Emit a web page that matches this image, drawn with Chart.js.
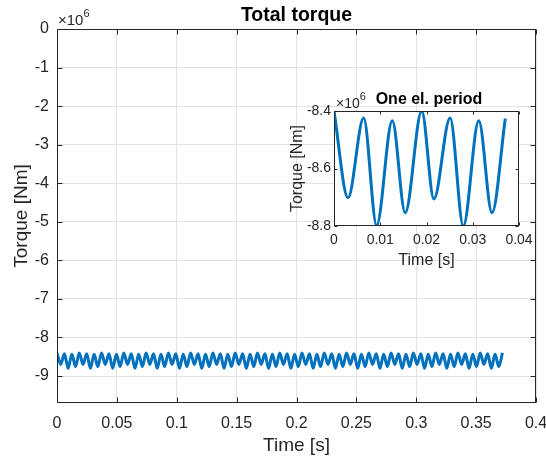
<!DOCTYPE html>
<html>
<head>
<meta charset="utf-8">
<script src="https://cdn.jsdelivr.net/npm/chart.js@4.4.1/dist/chart.umd.min.js"></script>
<style>
	body { margin: 0; background: #fff; }
	#wrap { position: relative; width: 546px; height: 463px; }
	#mainChart { position: absolute; left: 0; top: 0; }
	#insetChart { position: absolute; left: 270px; top: 80px; }
</style>
</head>
<body>
<div id="wrap">
	<canvas id="mainChart" width="546" height="463"></canvas>
	<canvas id="insetChart" width="270" height="200"></canvas>
</div>
<script>
// torque values are in units of 1e6 Nm (axis shows x10^6)
const mainTime = [
	0, 0.0031, 0.0062, 0.0093, 0.0124, 0.0155, 0.0186, 0.0217, 0.0248, 0.0279,
	0.031, 0.0341, 0.0372, 0.0403, 0.0434, 0.0465, 0.0496, 0.0527, 0.0558, 0.0589,
	0.062, 0.0651, 0.0682, 0.0713, 0.0744, 0.0775, 0.0806, 0.0837, 0.0868, 0.0899,
	0.093, 0.0961, 0.0992, 0.1023, 0.1054, 0.1085, 0.1116, 0.1147, 0.1178, 0.1209,
	0.124, 0.1271, 0.1302, 0.1333, 0.1364, 0.1395, 0.1426, 0.1457, 0.1488, 0.1519,
	0.155, 0.1581, 0.1612, 0.1643, 0.1674, 0.1705, 0.1736, 0.1767, 0.1798, 0.1829,
	0.186, 0.1891, 0.1922, 0.1953, 0.1984, 0.2015, 0.2046, 0.2077, 0.2108, 0.2139,
	0.217, 0.2201, 0.2232, 0.2263, 0.2294, 0.2325, 0.2356, 0.2387, 0.2418, 0.2449,
	0.248, 0.2511, 0.2542, 0.2573, 0.2604, 0.2635, 0.2666, 0.2697, 0.2728, 0.2759,
	0.279, 0.2821, 0.2852, 0.2883, 0.2914, 0.2945, 0.2976, 0.3007, 0.3038, 0.3069,
	0.31, 0.3131, 0.3162, 0.3193, 0.3224, 0.3255, 0.3286, 0.3317, 0.3348, 0.3379,
	0.341, 0.3441, 0.3472, 0.3503, 0.3534, 0.3565, 0.3596, 0.3627, 0.3658, 0.3689,
	0.372
];
const mainTorque = [
	-8.40, -8.70, -8.424, -8.80, -8.434, -8.754, -8.40, -8.70, -8.424, -8.80,
	-8.434, -8.754, -8.40, -8.70, -8.424, -8.80, -8.434, -8.754, -8.40, -8.70,
	-8.424, -8.80, -8.434, -8.754, -8.40, -8.70, -8.424, -8.80, -8.434, -8.754,
	-8.40, -8.70, -8.424, -8.80, -8.434, -8.754, -8.40, -8.70, -8.424, -8.80,
	-8.434, -8.754, -8.40, -8.70, -8.424, -8.80, -8.434, -8.754, -8.40, -8.70,
	-8.424, -8.80, -8.434, -8.754, -8.40, -8.70, -8.424, -8.80, -8.434, -8.754,
	-8.40, -8.70, -8.424, -8.80, -8.434, -8.754, -8.40, -8.70, -8.424, -8.80,
	-8.434, -8.754, -8.40, -8.70, -8.424, -8.80, -8.434, -8.754, -8.40, -8.70,
	-8.424, -8.80, -8.434, -8.754, -8.40, -8.70, -8.424, -8.80, -8.434, -8.754,
	-8.40, -8.70, -8.424, -8.80, -8.434, -8.754, -8.40, -8.70, -8.424, -8.80,
	-8.434, -8.754, -8.40, -8.70, -8.424, -8.80, -8.434, -8.754, -8.40, -8.70,
	-8.424, -8.80, -8.434, -8.754, -8.40, -8.70, -8.424, -8.80, -8.434, -8.754,
	-8.40
];
const insetTime = [0, 0.00303, 0.00641, 0.00922, 0.0126, 0.0154, 0.01896, 0.0216, 0.0251, 0.02796, 0.0313, 0.03416, 0.03704];
const insetTorque = [-8.40, -8.702, -8.424, -8.798, -8.434, -8.754, -8.40, -8.706, -8.424, -8.80, -8.434, -8.754, -8.426];

const mainXTicks = { min: 0, max: 0.4, step: 0.05 };
const mainYTicks = { min: -9.7, max: 0, step: 1 };
const insetXTicks = { min: 0, max: 0.04, step: 0.01 };
const insetYTicks = { min: -8.8, max: -8.4, step: 0.2 };

const lineColor = '#0072bd';
const axisColor = '#262626';
const fontFamily = '"Liberation Sans", Arial, Helvetica, sans-serif';

function toPoints(xs, ys) {
	return xs.map((x, i) => ({ x: x, y: ys[i] }));
}

// box, inward ticks, white plot background and the text that sits outside the scales
const frameAndLabels = {
	id: 'frameAndLabels',
	beforeDraw(chart, args, opts) {
		const { ctx, chartArea: a } = chart;
		ctx.save();
		ctx.fillStyle = '#fff';
		if (opts.fillAll) {
			ctx.fillRect(0, 0, chart.width, chart.height);
		} else {
			ctx.fillRect(a.left, a.top, a.right - a.left, a.bottom - a.top);
		}
		ctx.restore();
	},
	afterDraw(chart, args, opts) {
		const { ctx, chartArea: a, scales } = chart;
		const L = Math.round(a.left) + 0.5, R = Math.round(a.right) - 0.5;
		const T = Math.round(a.top) + 0.5, B = Math.round(a.bottom) - 0.5;
		const len = opts.tickLen;
		ctx.save();
		ctx.strokeStyle = axisColor;
		ctx.lineWidth = 1;
		ctx.beginPath();
		scales.x.ticks.forEach((t) => {
			const px = Math.round(scales.x.getPixelForValue(t.value)) + 0.5;
			ctx.moveTo(px, B); ctx.lineTo(px, B - len);
			ctx.moveTo(px, T); ctx.lineTo(px, T + len);
		});
		scales.y.ticks.forEach((t) => {
			const py = Math.round(scales.y.getPixelForValue(t.value)) + 0.5;
			ctx.moveTo(L, py); ctx.lineTo(L + len, py);
			ctx.moveTo(R, py); ctx.lineTo(R - len, py);
		});
		ctx.stroke();
		ctx.strokeRect(L, T, R - L, B - T);

		ctx.fillStyle = '#000';
		ctx.textBaseline = 'alphabetic';
		ctx.textAlign = 'center';
		ctx.font = 'bold ' + opts.titleSize + 'px ' + fontFamily;
		ctx.fillText(opts.title, opts.titleX, opts.titleY);

		ctx.fillStyle = axisColor;
		ctx.font = opts.labelSize + 'px ' + fontFamily;
		ctx.fillText(opts.xLabel, (a.left + a.right) / 2, opts.xLabelY);
		ctx.save();
		ctx.translate(opts.yLabelX, (a.top + a.bottom) / 2);
		ctx.rotate(-Math.PI / 2);
		ctx.fillText(opts.yLabel, 0, 0);
		ctx.restore();

		// x10^6 multiplier
		ctx.textAlign = 'left';
		ctx.font = opts.expSize + 'px ' + fontFamily;
		ctx.fillText('\u00d710', opts.expX, opts.expY);
		const w = ctx.measureText('\u00d710').width;
		ctx.font = Math.round(opts.expSize * 0.75) + 'px ' + fontFamily;
		ctx.fillText('6', opts.expX + w, opts.expY - opts.expSize * 0.55);
		ctx.restore();
	}
};

function fmt(v, digits) {
	return String(+v.toFixed(digits));
}

function fixWidth(w) {
	return (s) => { s.width = w; s.paddingTop = 0; s.paddingBottom = 0; };
}

function fixHeight(h) {
	return (s) => { s.height = h; s.paddingLeft = 0; s.paddingRight = 0; };
}

const mainChart = new Chart(document.getElementById('mainChart'), {
	type: 'line',
	data: {
		datasets: [{
			data: toPoints(mainTime, mainTorque),
			borderColor: lineColor,
			borderWidth: 3,
			pointRadius: 0,
			cubicInterpolationMode: 'monotone',
			fill: false
		}]
	},
	options: {
		responsive: false,
		animation: false,
		events: [],
		layout: { padding: { top: 29, right: 10, left: 0, bottom: 0 } },
		plugins: {
			legend: { display: false },
			tooltip: { enabled: false },
			frameAndLabels: {
				fillAll: true,
				tickLen: 5,
				title: 'Total torque', titleSize: 19.5, titleX: 296.5, titleY: 21,
				xLabel: 'Time [s]', xLabelY: 451,
				yLabel: 'Torque [Nm]', yLabelX: 27,
				labelSize: 19,
				expX: 58, expY: 25, expSize: 15
			}
		},
		scales: {
			x: {
				type: 'linear',
				min: mainXTicks.min,
				max: mainXTicks.max,
				afterFit: fixHeight(60),
				border: { display: false },
				grid: { color: '#e3e3e3', drawTicks: false },
				ticks: {
					stepSize: mainXTicks.step,
					padding: 11,
					color: axisColor,
					maxRotation: 0,
					autoSkip: false,
					font: { family: fontFamily, size: 16 },
					callback: (v) => fmt(v, 2)
				}
			},
			y: {
				type: 'linear',
				min: mainYTicks.min,
				max: mainYTicks.max,
				afterFit: fixWidth(57),
				afterBuildTicks: (s) => {
					s.ticks = s.ticks.filter((t) => Math.abs(t.value - Math.round(t.value)) < 1e-6);
				},
				border: { display: false },
				grid: { color: '#e3e3e3', drawTicks: false },
				ticks: {
					stepSize: mainYTicks.step,
					padding: 8,
					color: axisColor,
					font: { family: fontFamily, size: 16 },
					callback: (v) => fmt(v, 0)
				}
			}
		}
	},
	plugins: [frameAndLabels]
});

const insetChart = new Chart(document.getElementById('insetChart'), {
	type: 'line',
	data: {
		datasets: [{
			data: toPoints(insetTime, insetTorque),
			borderColor: lineColor,
			borderWidth: 3,
			pointRadius: 0,
			cubicInterpolationMode: 'monotone',
			fill: false
		}]
	},
	options: {
		responsive: false,
		animation: false,
		events: [],
		layout: { padding: { top: 31, right: 21, left: 0, bottom: 0 } },
		plugins: {
			legend: { display: false },
			tooltip: { enabled: false },
			frameAndLabels: {
				fillAll: false,
				tickLen: 3,
				title: 'One el. period', titleSize: 16, titleX: 159, titleY: 24,
				xLabel: 'Time [s]', xLabelY: 185,
				yLabel: 'Torque [Nm]', yLabelX: 32,
				labelSize: 16,
				expX: 66, expY: 28, expSize: 14
			}
		},
		scales: {
			x: {
				type: 'linear',
				min: insetXTicks.min,
				max: insetXTicks.max,
				afterFit: fixHeight(54),
				border: { display: false },
				grid: { display: false, drawTicks: false },
				ticks: {
					stepSize: insetXTicks.step,
					padding: 6,
					color: axisColor,
					maxRotation: 0,
					autoSkip: false,
					font: { family: fontFamily, size: 14 },
					callback: (v) => fmt(v, 2)
				}
			},
			y: {
				type: 'linear',
				min: insetYTicks.min,
				max: insetYTicks.max,
				afterFit: fixWidth(64),
				border: { display: false },
				grid: { display: false, drawTicks: false },
				ticks: {
					stepSize: insetYTicks.step,
					padding: 3,
					color: axisColor,
					font: { family: fontFamily, size: 14 },
					callback: (v) => v.toFixed(1)
				}
			}
		}
	},
	plugins: [frameAndLabels]
});
</script>
</body>
</html>
